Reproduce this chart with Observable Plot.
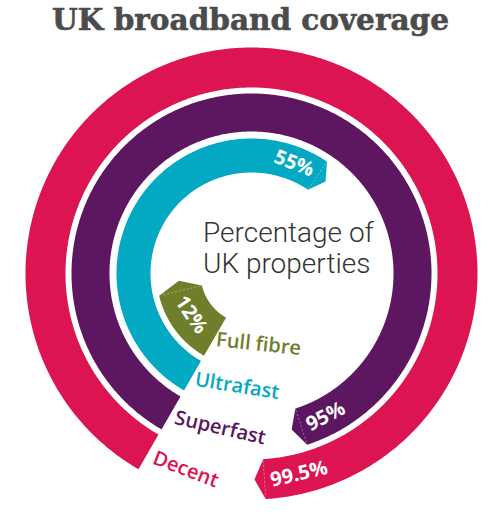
<!DOCTYPE html>
<html><head><meta charset="utf-8">
<script src="https://cdn.jsdelivr.net/npm/d3@7"></script>
<script src="https://cdn.jsdelivr.net/npm/@observablehq/plot@0.6"></script>
<style>
body{margin:0;background:#fff;}
#wrap{position:relative;width:501px;height:514px;overflow:hidden;}
#title{position:absolute;top:2px;left:0;width:501px;text-align:center;font-family:"DejaVu Serif";font-weight:bold;font-size:29.5px;line-height:36px;color:#4b4b4b;-webkit-text-stroke:0.6px #4b4b4b;}
#chart{position:absolute;top:0;left:0;}
</style></head><body>
<div id="wrap"><div id="chart"></div><div id="title"></div></div>
<script>
// ---- data ----
const title = "UK broadband coverage";
const categories = ["Decent", "Superfast", "Ultrafast", "Full fibre"];
const values = [99.5, 95, 55, 12];
const valueLabels = ["99.5%", "95%", "55%", "12%"];
const centerLines = ["Percentage of", "UK properties"];

// ---- layout / style ----
const colors = ["#dc1451", "#5d1660", "#03a9c3", "#6f7e2b"];
const ringInner = [186, 142, 101, 51];
const ringOuter = [226, 180, 135, 95];
const labelRotate = [21, 13, 9, 6];
const START = 210;              // degrees clockwise from 12 o'clock
const LABEL_START = 208;
const angle = d3.scaleLinear().domain([0, 100]).range([218, 538]);
const rad = d => d * Math.PI / 180;
const polar = (r, t) => ({x: r * Math.sin(rad(t)), y: r * Math.cos(rad(t))});

document.getElementById("title").textContent = title;

const ctx = document.createElement("canvas").getContext("2d");
const valueFont = "bold 20px 'Open Sans'";
ctx.font = valueFont;

const marks = [];
categories.forEach((c, i) => {
  const r0 = ringInner[i], r1 = ringOuter[i], rm = (r0 + r1) / 2;
  const t0 = START, t1 = angle(values[i]);
  const tip = (10 / rm) * 180 / Math.PI;
  const pts = [];
  for (let t = t0; t < t1; t += 0.5) pts.push(polar(r1, t));
  pts.push(polar(r1, t1));
  pts.push(polar(rm, t1 + tip));
  pts.push(polar(r0, t1));
  for (let t = t1; t > t0; t -= 0.5) pts.push(polar(r0, t));
  pts.push(polar(r0, t0));
  marks.push(Plot.line(pts, {x: "x", y: "y", fill: colors[i], stroke: "none", curve: "linear"}));
  // dotted cut line
  marks.push(Plot.line([polar(r0 + 2, t1), polar(r1 - 2, t1)], {x: "x", y: "y", stroke: "#ffffff", strokeOpacity: 0.35, strokeWidth: 1, strokeDasharray: "1.5,2.5"}));
  // category label
  const lp = polar(rm + 2, LABEL_START);
  marks.push(Plot.text([{...lp, text: c}], {x: "x", y: "y", text: "text", rotate: labelRotate[i], textAnchor: "start",
    fill: colors[i], fontSize: 20, fontFamily: "Open Sans", fontWeight: 600}));
  // value label
  const w = ctx.measureText(valueLabels[i]).width;
  const tv = t1 - ((w / 2 + 6) / rm) * 180 / Math.PI;
  const vp = polar(rm, tv);
  const tm = ((tv % 360) + 360) % 360;
  const rot = (tm > 90 && tm < 270) ? tm - 180 : tm;
  marks.push(Plot.text([{...vp, text: valueLabels[i]}], {x: "x", y: "y", text: "text", rotate: rot, textAnchor: "middle",
    fill: "white", fontSize: 20, fontFamily: "Open Sans", fontWeight: "bold"}));
});

marks.push(Plot.text([centerLines.join("\n")], {frameAnchor: "middle", textAnchor: "start", lineAnchor: "middle",
  dx: -48, dy: -10, fontSize: 28, fontFamily: "Roboto", fontWeight: 300, fill: "#333", lineHeight: 1.12}));

const chart = Plot.plot({
  width: 501, height: 514, margin: 0,
  x: {domain: [-251, 250], range: [0, 501], axis: null},
  y: {domain: [-241, 273], range: [514, 0], axis: null},
  marks
});
document.getElementById("chart").append(chart);
</script>
</body></html>
